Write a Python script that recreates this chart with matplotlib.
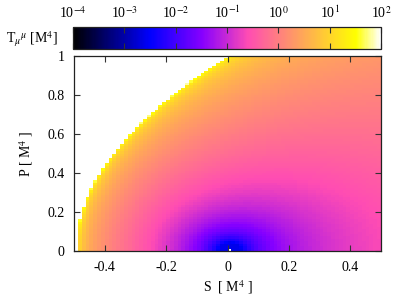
import numpy as np
import matplotlib
matplotlib.use("Agg")
import matplotlib.pyplot as plt
from matplotlib.colors import LogNorm, ListedColormap

plt.rcParams['font.family'] = ['Liberation Serif', 'DejaVu Serif']
plt.rcParams['mathtext.fontset'] = 'stix'

# ---- data description ----
S_range = [-0.5, 0.5]          # S [M^4]
P_range = [0.0, 1.0]           # P [M^4]
n_cells = 80                   # grid resolution seen in the picture
trace_factor = 4.0             # T = 4 (L - S L_S - P L_P), Born-Infeld field
T_floor = 10 ** -2.6           # smallest value shown near the origin (pure blue)
cbar_ticks = [1e-4, 1e-3, 1e-2, 1e-1, 1e0, 1e1, 1e2]
cbar_labels = [r'10$^{-4}$', r'10$^{-3}$', r'10$^{-2}$', r'10$^{-1}$',
               r'10$^{0}$', r'10$^{1}$', r'10$^{2}$']
x_ticks = [-0.4, -0.2, 0, 0.2, 0.4]
x_ticklabels = ['-0.4', '-0.2', '0', '0.2', '0.4']
y_ticks = [0, 0.2, 0.4, 0.6, 0.8, 1]
y_ticklabels = ['0', '0.2', '0.4', '0.6', '0.8', '1']

S_edges = np.linspace(S_range[0], S_range[1], n_cells + 1)
P_edges = np.linspace(P_range[0], P_range[1], n_cells + 1)
S_c, P_c = np.meshgrid(S_edges[:-1], P_edges[:-1])
R2 = 1 + 2 * S_c - P_c ** 2
valid = R2 > 1e-12
R = np.sqrt(np.where(valid, R2, 1.0))
T = np.abs(trace_factor * (R - 1 - S_c) / R)
bad = (~valid) | (T < 1e-9)
T = np.maximum(T, T_floor)
T = np.ma.masked_where(bad, T)

# gnuplot rgbformulae 30,31,32
x = np.linspace(0, 1, 256)
r = np.clip(x / 0.32 - 0.78125, 0, 1)
g = np.clip(2 * x - 0.84, 0, 1)
b = np.where(x < 0.25, 4 * x,
     np.where(x < 0.42, 1.0,
      np.where(x < 0.92, -2 * x + 1.84, x / 0.08 - 11.5)))
b = np.clip(b, 0, 1)
cmap = ListedColormap(np.column_stack([r, g, b]))
cmap.set_bad('white')

fig = plt.figure(figsize=(3.99, 3.01), dpi=100)
ax = fig.add_axes([74 / 399, 50 / 301, 307 / 399, 195 / 301])
norm = LogNorm(vmin=1e-4, vmax=1e2)
mesh = ax.pcolormesh(S_edges, P_edges, T, cmap=cmap, norm=norm,
                     shading='flat', linewidth=0, antialiased=False)
ax.set_xlim(S_range)
ax.set_ylim(P_range)
ax.set_xticks(x_ticks)
ax.set_xticklabels(x_ticklabels)
ax.set_yticks(y_ticks)
ax.set_yticklabels(y_ticklabels)
ax.tick_params(direction='in', top=True, right=True, length=4, width=0.8,
               labelsize=10, color='#333333', pad=7)
for sp in ax.spines.values():
    sp.set_linewidth(0.9)
    sp.set_color('#222222')
ax.set_xlabel(r'S  [ M$^4$ ]', fontsize=10, labelpad=3)
ax.set_ylabel(r'P [ M$^4$ ]', fontsize=10, labelpad=9)

cax = fig.add_axes([73 / 399, (301 - 49) / 301, 308 / 399, 22 / 301])
cb = fig.colorbar(mesh, cax=cax, orientation='horizontal')
cb.outline.set_linewidth(0.9)
cb.outline.set_edgecolor('#222222')
cax.xaxis.set_ticks_position('both')
cax.xaxis.set_label_position('top')
cax.minorticks_off()
cb.set_ticks(cbar_ticks)
cb.set_ticklabels(cbar_labels)
cax.tick_params(axis='x', which='both', direction='in', length=4, width=0.8,
                labeltop=True, labelbottom=False, labelsize=10,
                color='#333333', pad=4)
cax.xaxis.set_minor_locator(matplotlib.ticker.NullLocator())
fig.text(6 / 399, 1 - 39 / 301, r'T$_\mu$$^\mu$ [M$^4$]', fontsize=10,
         ha='left', va='center')

fig.savefig('out.png', dpi=100)
